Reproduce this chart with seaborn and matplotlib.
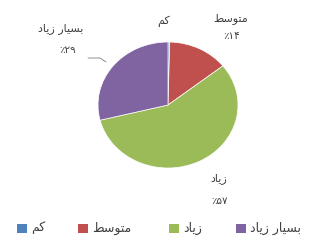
import matplotlib
matplotlib.use("Agg")
import matplotlib.pyplot as plt
import seaborn as sns
from matplotlib.patches import Rectangle
from matplotlib.lines import Line2D

categories = ["کم", "متوسط", "زیاد", "بسیار زیاد"]
values = [0.4, 14, 57, 29]
pct_labels = ["", "٪۱۴", "٪۵۷", "٪۲۹"]
colors = ["#4F81BD", "#C0504D", "#9BBB59", "#8064A2"]

# Arabic-script shaping (presentation forms) + visual ordering
DUAL = {
    'ک': (0xFB8E, 0xFB8F, 0xFB90, 0xFB91),
    'م': (0xFEE1, 0xFEE2, 0xFEE3, 0xFEE4),
    'ت': (0xFE95, 0xFE96, 0xFE97, 0xFE98),
    'س': (0xFEB1, 0xFEB2, 0xFEB3, 0xFEB4),
    'ط': (0xFEC1, 0xFEC2, 0xFEC3, 0xFEC4),
    'ی': (0xFBFC, 0xFBFD, 0xFBFE, 0xFBFF),
    'ب': (0xFE8F, 0xFE90, 0xFE91, 0xFE92),
}
RIGHT = {
    'و': (0xFEED, 0xFEEE),
    'ز': (0xFEAF, 0xFEB0),
    'ا': (0xFE8D, 0xFE8E),
    'د': (0xFEA9, 0xFEAA),
    'ر': (0xFEAD, 0xFEAE),
}


def shape(s):
    out = []
    n = len(s)
    for i, ch in enumerate(s):
        prev = s[i - 1] if i > 0 else None
        nxt = s[i + 1] if i < n - 1 else None
        if ch in DUAL:
            jp = prev in DUAL
            jn = (nxt in DUAL) or (nxt in RIGHT)
            iso, fin, ini, med = DUAL[ch]
            c = med if (jp and jn) else fin if jp else ini if jn else iso
            out.append(chr(c))
        elif ch in RIGHT:
            jp = prev in DUAL
            iso, fin = RIGHT[ch]
            out.append(chr(fin if jp else iso))
        else:
            out.append(ch)
    return ''.join(reversed(out))


sns.set_theme(style="white")
plt.rcParams['font.family'] = ['DejaVu Sans']

W, H = 327, 241
fig = plt.figure(figsize=(W / 100, H / 100), dpi=100)
fig.patch.set_facecolor("white")

ax = fig.add_axes([98 / W, 73 / H, 140 / W, 126 / H])
ax.pie(values, colors=sns.color_palette(colors), startangle=90, counterclock=False,
       radius=1, wedgeprops=dict(edgecolor="white", linewidth=0.5))
ax.set_xlim(-1.0, 1.0)
ax.set_ylim(-1.0, 1.0)
ax.set_aspect('auto')
ax.axis('off')

tc = "#404040"


def ftext(x, y, s, size=7.5, ha='center'):
    fig.text(x / W, 1 - y / H, s, ha=ha, va='center', fontsize=size, color=tc)


label_pos = [((164, 21), None), ((231, 19), (232, 36)), ((219, 179), (220, 201)), ((61, 29), (68, 50))]
for cat, pct, (npos, ppos) in zip(categories, pct_labels, label_pos):
    ftext(npos[0], npos[1], shape(cat), size=8)
    if ppos is not None and pct:
        ftext(ppos[0], ppos[1], pct)

# leader line for the purple label
fig.add_artist(Line2D([88 / W, 100 / W, 106 / W], [1 - 58 / H, 1 - 58 / H, 1 - 62 / H],
                      color="#7f7f7f", linewidth=0.6))

# legend (square to the left of each entry)
sq_x = [17, 78, 169, 236]
for cat, col, sx in zip(categories, colors, sq_x):
    fig.add_artist(Rectangle((sx / W, 1 - 233 / H), 10 / W, 9 / H, facecolor=col,
                             edgecolor='none', transform=fig.transFigure))
    ftext(sx + 14, 228, shape(cat), size=9, ha='left')

fig.savefig("out.png", dpi=100, facecolor="white")
